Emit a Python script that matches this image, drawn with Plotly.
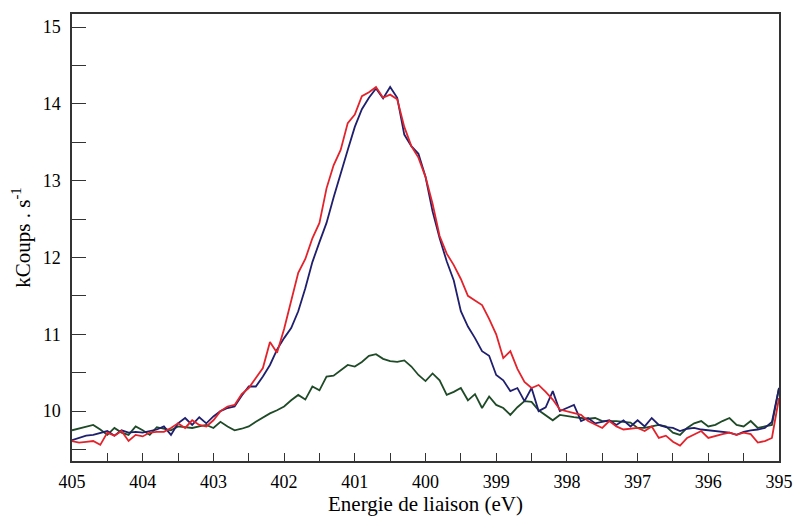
import plotly.graph_objects as go

energy = [round(405.0 - 0.1 * i, 1) for i in range(101)]

blue = [9.62, 9.65, 9.68, 9.69, 9.71, 9.74, 9.68, 9.75, 9.72, 9.73,
        9.72, 9.74, 9.76, 9.80, 9.69, 9.84, 9.91, 9.82, 9.92, 9.84,
        9.93, 10.00, 10.04, 10.06, 10.20, 10.32, 10.32, 10.45, 10.60, 10.80,
        10.95, 11.08, 11.30, 11.60, 11.94, 12.20, 12.45, 12.78, 13.10, 13.40,
        13.70, 13.93, 14.08, 14.20, 14.07, 14.22, 14.08, 13.60, 13.45, 13.35,
        13.05, 12.60, 12.25, 11.95, 11.70, 11.30, 11.10, 10.95, 10.78, 10.72,
        10.47, 10.40, 10.26, 10.30, 10.13, 10.30, 10.00, 10.05, 10.26, 10.00,
        10.04, 10.08, 9.87, 9.91, 9.84, 9.86, 9.88, 9.82, 9.88, 9.80,
        9.88, 9.80, 9.91, 9.82, 9.79, 9.78, 9.74, 9.77, 9.78, 9.76,
        9.75, 9.74, 9.73, 9.72, 9.69, 9.73, 9.75, 9.76, 9.78, 9.86,
        10.30]

red = [9.61, 9.59, 9.60, 9.61, 9.56, 9.72, 9.68, 9.74, 9.61, 9.69,
       9.67, 9.72, 9.73, 9.73, 9.78, 9.84, 9.78, 9.88, 9.82, 9.80,
       9.88, 10.00, 10.06, 10.08, 10.22, 10.30, 10.43, 10.56, 10.90, 10.76,
       11.07, 11.42, 11.80, 11.98, 12.25, 12.45, 12.90, 13.20, 13.40, 13.75,
       13.86, 14.10, 14.15, 14.22, 14.08, 14.12, 14.06, 13.70, 13.45, 13.30,
       13.05, 12.70, 12.28, 12.05, 11.90, 11.72, 11.50, 11.44, 11.38, 11.20,
       11.00, 10.69, 10.78, 10.55, 10.38, 10.30, 10.34, 10.25, 10.15, 10.02,
       10.00, 9.97, 9.95, 9.87, 9.82, 9.78, 9.87, 9.80, 9.76, 9.77,
       9.78, 9.74, 9.80, 9.65, 9.68, 9.60, 9.55, 9.65, 9.70, 9.74,
       9.65, 9.68, 9.70, 9.72, 9.69, 9.72, 9.70, 9.59, 9.61, 9.65,
       10.17]

green = [9.75, 9.77, 9.80, 9.82, 9.76, 9.69, 9.78, 9.72, 9.69, 9.80,
         9.75, 9.69, 9.79, 9.77, 9.75, 9.80, 9.79, 9.78, 9.80, 9.82,
         9.78, 9.86, 9.80, 9.75, 9.77, 9.80, 9.86, 9.92, 9.97, 10.01,
         10.06, 10.14, 10.21, 10.15, 10.32, 10.27, 10.45, 10.46, 10.53, 10.60,
         10.58, 10.64, 10.72, 10.74, 10.68, 10.65, 10.64, 10.66, 10.58, 10.47,
         10.39, 10.49, 10.40, 10.21, 10.25, 10.30, 10.14, 10.22, 10.04, 10.19,
         10.08, 10.04, 9.95, 10.05, 10.13, 10.12, 10.01, 9.95, 9.88, 9.95,
         9.93, 9.92, 9.91, 9.90, 9.91, 9.87, 9.87, 9.87, 9.86, 9.85,
         9.78, 9.78, 9.80, 9.82, 9.80, 9.72, 9.69, 9.78, 9.84, 9.87,
         9.80, 9.82, 9.87, 9.91, 9.82, 9.80, 9.87, 9.78, 9.80, 9.82,
         10.30]

x_ticks = [405, 404, 403, 402, 401, 400, 399, 398, 397, 396, 395]
y_ticks = [10, 11, 12, 13, 14, 15]

font_family = "'Liberation Serif', 'Times New Roman', Tinos, 'DejaVu Serif', serif"

fig = go.Figure()
for name, ys, col in [("green", green, "#1f4a27"),
                      ("blue", blue, "#1f1f6e"),
                      ("red", red, "#e3232b")]:
    fig.add_trace(go.Scatter(x=energy, y=ys, mode="lines", name=name,
                             line=dict(color=col, width=1.8)))

fig.update_layout(
    width=804, height=519,
    margin=dict(l=72, r=11, t=14, b=56),
    paper_bgcolor="white", plot_bgcolor="white",
    showlegend=False,
    font=dict(family=font_family, size=18, color="black"),
)
fig.update_xaxes(
    range=[405, 395], tickvals=x_ticks, ticktext=[str(v) for v in x_ticks],
    ticks="inside", ticklen=8, tickcolor="#333", tickwidth=1,
    minor=dict(dtick=0.5, tick0=395, ticks="inside", ticklen=8, tickcolor="#333"),
    showline=True, linecolor="#333", linewidth=1.5, mirror=True,
    showgrid=False, zeroline=False,
    ticklabelstandoff=4, ticklabeloverflow="allow",
    title=dict(text="Energie de liaison (eV)", standoff=1,
               font=dict(family=font_family, size=21)),
    tickfont=dict(family=font_family, size=18),
)
fig.update_yaxes(
    range=[9.35, 15.17], tickvals=y_ticks, ticktext=[str(v) for v in y_ticks],
    ticks="inside", ticklen=14, tickcolor="#333", tickwidth=1,
    minor=dict(dtick=0.5, tick0=10, ticks="inside", ticklen=14, tickcolor="#333"),
    showline=True, linecolor="#333", linewidth=1.5, mirror=True,
    showgrid=False, zeroline=False,
    ticklabelstandoff=6,
    title=dict(text="kCoups . s<sup>-1</sup>", standoff=6,
               font=dict(family=font_family, size=21)),
    tickfont=dict(family=font_family, size=18),
)

fig.write_html("out.html")
